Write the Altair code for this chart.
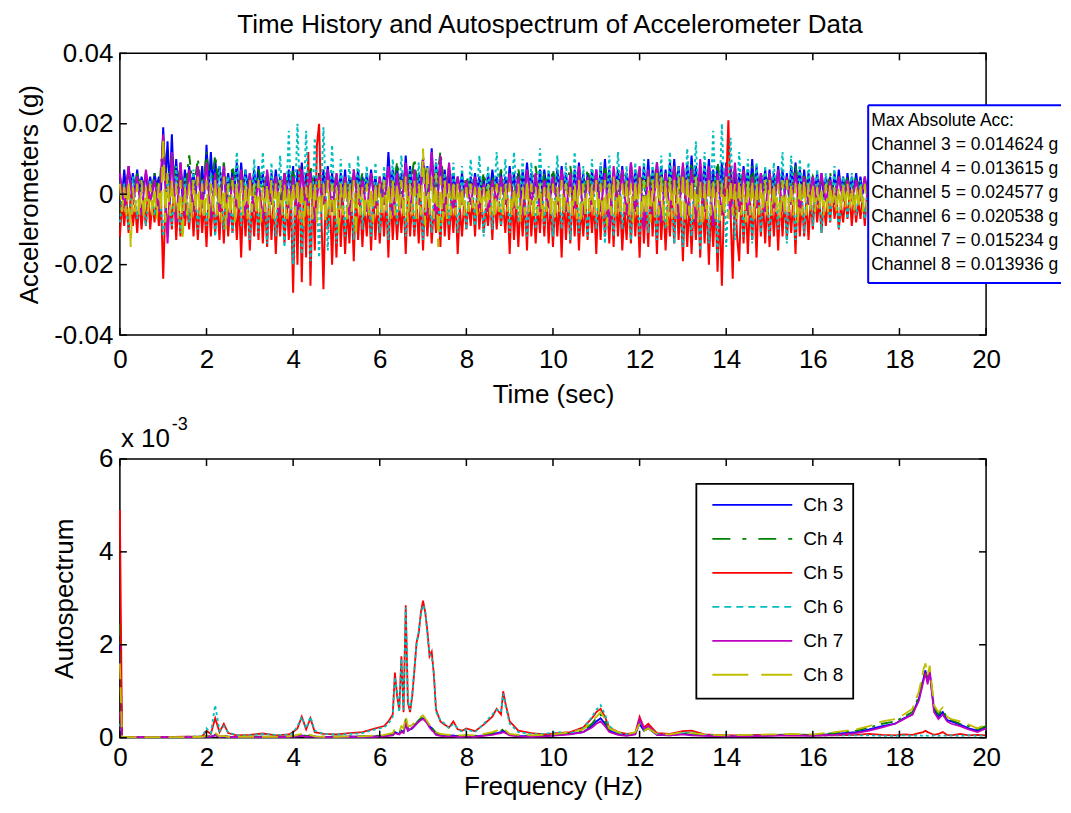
import altair as alt
import pandas as pd

FONT = "Liberation Sans"

# ---------------- Time history (milli-g) ----------------
# Ch 3, Ch 5, Ch 8 read every 0.05 s; Ch 4, Ch 6, Ch 7 every 0.1 s
ch3_mg = [5,-1,7,0,8,2,6,1,7,0,5,2,6,1,5,0,6,2,5,1,
          19,3,15,1,17,1,10,0,9,-2,7,1,8,2,6,0,7,1,8,0,
          14,1,12,2,10,3,8,1,8,-1,6,1,7,2,9,0,9,1,7,2,
          6,0,7,1,8,2,6,0,5,-2,6,1,7,1,5,0,6,0,7,1,
          8,-3,7,0,9,1,6,0,7,-2,5,1,6,0,7,1,8,1,6,0,
          5,1,6,0,7,-1,5,1,6,2,7,0,5,0,6,1,7,1,5,0,
          4,-1,6,1,12,2,7,0,8,0,6,1,11,1,8,0,7,-1,6,1,
          9,2,8,1,13,0,9,1,10,1,7,0,7,-2,6,1,5,1,6,0,
          4,0,5,1,6,1,5,0,5,-1,6,1,7,2,5,0,6,0,5,1,
          8,1,6,0,6,-2,7,1,9,2,6,0,5,0,7,1,7,1,6,0,
          6,0,7,1,8,2,6,0,5,-1,7,1,9,1,6,0,6,0,7,1,
          7,-2,8,1,10,1,7,0,6,2,7,1,8,0,6,1,9,1,7,0,
          6,1,8,0,10,-1,7,1,9,2,8,0,7,0,9,1,10,1,8,0,
          8,0,9,1,11,2,8,0,7,-1,9,1,10,1,7,0,8,0,9,1,
          9,1,8,0,7,-2,6,1,8,2,7,0,10,0,8,1,6,1,7,0,
          7,0,6,1,8,1,7,0,6,-1,8,1,9,2,7,0,7,0,6,1,
          5,1,6,0,6,-1,5,1,5,0,6,1,7,1,5,0,6,0,5,1,
          6,1,5,0,5,0,6,1,6,1,5]
ch4_mg = [4,0,7,-1,6,1,5,-2,6,0,
          16,-1,12,2,8,0,11,1,10,-1,
          12,1,11,0,9,-2,8,1,7,0,
          5,-1,7,1,6,0,5,-2,6,1,
          7,0,6,-2,8,1,5,0,7,-1,
          6,1,5,-1,7,0,6,2,5,0,
          5,-1,7,1,9,0,8,2,10,-1,
          11,0,9,2,12,1,8,-1,4,0,
          5,1,4,-1,6,0,5,1,7,0,
          6,-1,7,1,5,0,8,-2,6,1,
          7,0,5,1,8,-1,6,0,7,1,
          6,1,8,0,5,-1,7,2,6,0,
          8,-1,7,1,9,0,6,2,8,0,
          7,1,9,0,8,-1,6,1,9,0,
          8,0,6,1,7,-1,8,0,6,1,
          6,0,7,-1,5,1,8,0,6,0,
          5,1,4,0,6,-1,5,1,5,0,
          5,0,4,1,5,0]
ch5_mg = [-12,-2,-9,-1,-11,0,-9,-3,-11,-1,-10,-2,-9,1,-10,-2,-8,-1,-9,-2,
          -24,-3,-11,-1,-10,2,-13,-2,-12,-1,-9,-3,-10,0,-12,-2,-13,-1,-11,-2,
          -15,0,-12,-2,-11,-3,-13,-1,-14,1,-12,-2,-11,-2,-13,-1,-18,0,-12,-1,
          -16,-2,-12,-1,-13,0,-14,-2,-15,1,-13,-2,-17,-3,-12,-1,-14,-2,-13,-1,
          -28,2,-20,8,-25,4,-18,12,-26,2,-16,14,20,-5,-27,-1,-10,-2,-20,-1,
          -18,0,-15,-2,-17,-4,-14,-1,-19,1,-13,-2,-15,-3,-12,-1,-16,0,-13,-2,
          -14,-2,-12,-1,-18,1,-13,-2,-13,-3,-11,-1,-17,0,-12,-2,-12,-2,-14,-1,
          -16,0,-12,-2,-14,-3,-11,-1,-15,1,-12,-2,-13,-2,-11,-1,-17,-4,-12,-2,
          -10,-2,-9,-1,-12,1,-10,-2,-11,-4,-9,-1,-13,0,-10,-2,-9,-3,-11,-1,
          -17,0,-13,-2,-15,-2,-12,-1,-16,1,-12,-2,-14,-3,-11,-1,-12,0,-14,-2,
          -15,-2,-12,-1,-18,1,-13,-2,-14,0,-12,-1,-16,-3,-12,-2,-13,-1,-11,-2,
          -17,0,-13,-1,-12,-2,-14,-1,-15,1,-12,-2,-16,-4,-13,-1,-14,0,-12,-2,
          -18,-1,-14,-2,-15,2,-12,-1,-17,0,-13,-2,-16,-3,-12,-1,-14,1,-13,-2,
          -19,0,-15,-2,-17,-2,-13,-1,-18,1,-14,-2,-20,-3,-15,-1,-22,-4,-26,-2,
          2,21,-5,-24,3,-12,-19,0,-14,-2,-17,-2,-13,-1,-18,1,-12,-2,-14,-1,
          -15,-1,-12,-2,-16,0,-12,-1,-13,-3,-11,-1,-17,1,-12,-2,-12,-2,-13,-1,
          -10,0,-8,-1,-11,-2,-9,-1,-8,1,-7,-2,-10,-3,-8,-1,-7,0,-9,-1,
          -8,-2,-7,-1,-9,0,-6,-1,-7,-1,-8]
ch6_mg = [-8,3,-10,5,-7,2,-9,4,-6,3,
          -12,6,-9,8,-11,5,-8,7,-10,4,
          -9,6,-12,8,-10,5,-11,12,-9,7,
          -13,10,-11,12,-14,9,-12,11,-15,18,
          -20,20,-17,18,-19,16,-18,19,-16,14,
          -14,10,-12,9,-13,11,-10,8,-12,9,
          -11,8,-13,10,-9,11,-12,7,-10,9,
          -13,8,-11,10,-12,6,-9,9,-11,8,
          -10,10,-9,11,-12,8,-10,12,-9,10,
          -11,12,-8,10,-12,9,-10,13,-9,8,
          -12,11,-10,9,-13,12,-11,8,-12,10,
          -10,9,-14,11,-12,12,-10,8,-13,9,
          -12,10,-11,9,-13,11,-10,12,-14,8,
          -15,13,-12,15,-16,12,-14,18,-17,20,
          -15,16,-13,12,-12,10,-14,9,-11,8,
          -12,9,-10,12,-14,11,-13,10,-11,9,
          -9,7,-11,6,-8,8,-10,5,-7,6,
          -6,4,-7,5,-6,3]
ch7_mg = [6,-4,8,-3,5,-6,7,-2,4,-5,
          17,-14,12,-8,9,-6,7,-5,8,-4,
          9,-7,6,-5,8,-9,5,-4,7,-6,
          6,-5,4,-7,7,-3,5,-6,6,-4,
          5,-6,7,-4,6,-8,5,-3,7,-5,
          6,-4,5,-6,7,-3,4,-5,6,-4,
          5,-3,8,-6,6,-4,9,-5,7,-3,
          10,-6,12,-8,11,-5,9,-4,5,-3,
          4,-3,5,-4,3,-5,4,-2,5,-3,
          6,-4,5,-6,7,-3,6,-5,4,-4,
          5,-3,7,-5,6,-4,8,-6,5,-3,
          7,-5,6,-9,8,-4,7,-6,9,-5,
          8,-10,7,-6,9,-8,6,-5,8,-7,
          9,-6,7,-8,10,-5,8,-9,6,-6,
          8,-7,9,-5,7,-6,5,-4,6,-5,
          6,-4,7,-5,5,-3,6,-4,5,-3,
          5,-3,6,-2,4,-3,5,-2,4,-2,
          4,-2,5,-3,4,-2]
ch8_mg = [3,-5,2,-6,4,-15,2,-5,3,-6,4,-7,2,-5,3,-6,2,-7,3,-5,
          16,-8,6,-6,4,-5,3,-7,4,-13,2,-6,3,-7,4,-5,5,-6,3,-7,
          4,-7,3,-5,4,-6,3,-8,5,-10,3,-6,4,-8,3,-5,4,-6,3,-7,
          4,-5,3,-6,4,-8,2,-5,3,-6,4,-7,3,-5,4,-6,3,-7,2,-5,
          3,-6,4,-7,3,-9,2,-6,4,-7,3,-8,4,-6,3,-8,4,-6,3,-7,
          2,-11,3,-6,4,-7,3,-5,4,-12,3,-6,2,-7,3,-6,2,-8,3,-6,
          3,-6,4,-5,3,-7,4,-6,3,-5,4,-7,5,-8,3,-6,4,-7,3,-6,
          13,-9,8,-6,5,-7,6,-15,5,-8,4,-7,3,-6,4,-6,3,-5,2,-6,
          2,-5,3,-4,2,-6,3,-5,2,-4,3,-6,2,-7,3,-5,2,-6,3,-5,
          3,-6,2,-5,3,-8,2,-6,4,-5,3,-7,2,-6,3,-7,2,-5,3,-6,
          3,-7,2,-5,4,-6,3,-5,2,-6,3,-7,4,-8,3,-6,4,-5,3,-6,
          4,-6,3,-7,4,-9,3,-6,5,-7,4,-6,3,-5,4,-6,3,-8,4,-6,
          5,-7,4,-6,5,-8,4,-7,6,-6,5,-8,4,-9,5,-7,4,-6,5,-7,
          6,-8,5,-6,4,-7,5,-8,4,-9,3,-7,5,-6,4,-7,4,-8,3,-6,
          5,-7,4,-6,3,-7,4,-6,3,-8,4,-6,4,-7,3,-6,3,-5,4,-6,
          4,-6,3,-5,3,-7,4,-6,4,-5,3,-6,3,-8,4,-6,4,-6,3,-5,
          3,-5,2,-4,2,-6,3,-5,3,-4,2,-5,2,-5,3,-4,3,-4,2,-5,
          2,-4,3,-5,3,-5,2,-4,3,-4,2]
sample_step_s = [0.05, 0.1, 0.05, 0.1, 0.1, 0.05]

# ---------------- Autospectrum (units of 1e-3) ----------------
freq_hz = [0, 0.05, 0.2, 0.5, 1.0, 1.5, 1.9, 2.0, 2.1, 2.2,
           2.3, 2.4, 2.5, 2.7, 3.0, 3.3, 3.6, 3.9, 4.0, 4.1,
           4.2, 4.3, 4.4, 4.5, 4.7, 5.0, 5.3, 5.6, 5.9, 6.1,
           6.2, 6.3, 6.35, 6.4, 6.45, 6.5, 6.55, 6.6, 6.65, 6.7,
           6.75, 6.8, 6.85, 6.9, 6.95, 7.0, 7.05, 7.1, 7.15, 7.2,
           7.25, 7.3, 7.4, 7.5, 7.6, 7.7, 7.8, 7.9, 8.0, 8.2,
           8.4, 8.6, 8.7, 8.8, 8.85, 8.9, 9.0, 9.2, 9.5, 9.8,
           10.1, 10.4, 10.7, 10.9, 11.0, 11.1, 11.2, 11.3, 11.5, 11.7,
           11.9, 12.0, 12.1, 12.2, 12.4, 12.7, 13.0, 13.2, 13.5, 14.0,
           14.5, 15.0, 15.5, 16.0, 16.5, 17.0, 17.3, 17.6, 17.9, 18.1,
           18.3, 18.45, 18.55, 18.6, 18.65, 18.7, 18.75, 18.8, 18.9, 19.0,
           19.1, 19.2, 19.4, 19.6, 19.8, 20.0]
spec_ch3 = [2.0, 0.01, 0.01, 0.01, 0.01, 0.01, 0.01, 0.03, 0.02, 0.06,
            0.02, 0.03, 0.02, 0.01, 0.01, 0.02, 0.01, 0.02, 0.03, 0.03,
            0.05, 0.03, 0.04, 0.02, 0.01, 0.02, 0.02, 0.02, 0.03, 0.04,
            0.05, 0.06, 0.12, 0.1, 0.08, 0.15, 0.12, 0.3, 0.15, 0.18,
            0.2, 0.25, 0.3, 0.35, 0.4, 0.42, 0.38, 0.32, 0.25, 0.2,
            0.15, 0.1, 0.06, 0.05, 0.04, 0.05, 0.03, 0.03, 0.04, 0.03,
            0.05, 0.08, 0.1, 0.12, 0.15, 0.12, 0.06, 0.04, 0.03, 0.04,
            0.06, 0.08, 0.12, 0.25, 0.35, 0.42, 0.3, 0.15, 0.08, 0.05,
            0.08, 0.3, 0.15, 0.2, 0.06, 0.05, 0.08, 0.06, 0.05, 0.03,
            0.04, 0.05, 0.06, 0.05, 0.08, 0.12, 0.18, 0.25, 0.3, 0.42,
            0.5, 0.85, 1.25, 1.45, 1.2, 1.4, 1.0, 0.6, 0.45, 0.55,
            0.38, 0.35, 0.28, 0.2, 0.15, 0.22]
spec_ch4 = [2.45, 0.02, 0.01, 0.01, 0.01, 0.01, 0.02, 0.04, 0.02, 0.08,
            0.03, 0.04, 0.02, 0.01, 0.02, 0.02, 0.01, 0.02, 0.04, 0.05,
            0.06, 0.04, 0.05, 0.03, 0.02, 0.02, 0.03, 0.03, 0.04, 0.05,
            0.06, 0.08, 0.15, 0.12, 0.1, 0.2, 0.15, 0.4, 0.2, 0.2,
            0.22, 0.28, 0.32, 0.38, 0.42, 0.45, 0.4, 0.33, 0.26, 0.22,
            0.16, 0.11, 0.07, 0.06, 0.05, 0.06, 0.04, 0.04, 0.05, 0.04,
            0.06, 0.1, 0.12, 0.15, 0.18, 0.14, 0.07, 0.05, 0.04, 0.05,
            0.07, 0.1, 0.15, 0.3, 0.42, 0.5, 0.35, 0.18, 0.1, 0.06,
            0.1, 0.32, 0.18, 0.22, 0.07, 0.06, 0.1, 0.08, 0.06, 0.04,
            0.05, 0.06, 0.07, 0.06, 0.1, 0.15, 0.22, 0.3, 0.35, 0.45,
            0.55, 0.9, 1.3, 1.45, 1.25, 1.45, 1.05, 0.65, 0.5, 0.6,
            0.42, 0.38, 0.3, 0.25, 0.18, 0.25]
spec_ch5 = [4.9, 0.02, 0.01, 0.01, 0.01, 0.02, 0.03, 0.15, 0.08, 0.42,
            0.12, 0.3, 0.1, 0.05, 0.06, 0.09, 0.05, 0.07, 0.12, 0.2,
            0.45, 0.18, 0.42, 0.12, 0.08, 0.07, 0.1, 0.12, 0.2, 0.25,
            0.35, 0.5, 1.4, 0.9, 0.6, 1.75, 0.55, 2.85, 0.75, 0.55,
            0.9, 1.45, 2.05, 2.25, 2.7, 2.95, 2.7, 2.3, 1.75, 1.85,
            1.35, 0.6, 0.35, 0.28, 0.22, 0.35, 0.18, 0.15, 0.2, 0.14,
            0.28, 0.45, 0.62, 0.5, 1.0, 0.75, 0.35, 0.15, 0.1, 0.07,
            0.1, 0.12, 0.22, 0.42, 0.55, 0.62, 0.45, 0.22, 0.12, 0.08,
            0.1, 0.45, 0.22, 0.3, 0.1, 0.08, 0.14, 0.15, 0.07, 0.05,
            0.05, 0.06, 0.05, 0.05, 0.05, 0.06, 0.08, 0.06, 0.05, 0.07,
            0.06, 0.1, 0.12, 0.15, 0.12, 0.1, 0.08, 0.06, 0.08, 0.12,
            0.06, 0.05, 0.08, 0.05, 0.06, 0.05]
spec_ch6 = [0.3, 0.02, 0.01, 0.01, 0.01, 0.02, 0.03, 0.2, 0.1, 0.7,
            0.15, 0.25, 0.12, 0.05, 0.05, 0.08, 0.06, 0.06, 0.1, 0.25,
            0.45, 0.2, 0.45, 0.15, 0.08, 0.07, 0.08, 0.1, 0.18, 0.22,
            0.3, 0.45, 1.3, 1.0, 0.55, 1.7, 0.6, 2.8, 0.8, 0.6,
            0.95, 1.5, 2.0, 2.3, 2.65, 2.85, 2.75, 2.2, 1.8, 1.75,
            1.4, 0.55, 0.38, 0.3, 0.2, 0.3, 0.2, 0.12, 0.18, 0.12,
            0.3, 0.5, 0.6, 0.55, 0.95, 0.7, 0.3, 0.12, 0.08, 0.08,
            0.12, 0.1, 0.2, 0.45, 0.6, 0.7, 0.5, 0.25, 0.1, 0.07,
            0.08, 0.35, 0.2, 0.25, 0.08, 0.06, 0.1, 0.12, 0.06, 0.04,
            0.04, 0.05, 0.06, 0.04, 0.05, 0.05, 0.05, 0.04, 0.04, 0.05,
            0.04, 0.05, 0.04, 0.05, 0.04, 0.05, 0.04, 0.05, 0.04, 0.05,
            0.04, 0.05, 0.04, 0.05, 0.04, 0.05]
spec_ch7 = [0.55, 0.01, 0.01, 0.01, 0.01, 0.01, 0.01, 0.03, 0.02, 0.05,
            0.02, 0.03, 0.02, 0.01, 0.01, 0.01, 0.01, 0.02, 0.02, 0.03,
            0.04, 0.02, 0.03, 0.02, 0.01, 0.01, 0.02, 0.02, 0.02, 0.03,
            0.04, 0.05, 0.1, 0.08, 0.07, 0.12, 0.1, 0.35, 0.15, 0.18,
            0.22, 0.25, 0.3, 0.34, 0.38, 0.4, 0.36, 0.3, 0.22, 0.16,
            0.12, 0.06, 0.04, 0.03, 0.03, 0.03, 0.02, 0.02, 0.03, 0.02,
            0.04, 0.06, 0.08, 0.1, 0.12, 0.1, 0.05, 0.03, 0.02, 0.03,
            0.05, 0.07, 0.12, 0.22, 0.3, 0.35, 0.25, 0.12, 0.06, 0.04,
            0.07, 0.4, 0.2, 0.25, 0.06, 0.05, 0.07, 0.05, 0.04, 0.03,
            0.03, 0.04, 0.05, 0.04, 0.06, 0.1, 0.15, 0.22, 0.3, 0.4,
            0.5, 0.8, 1.2, 1.4, 1.15, 1.45, 0.95, 0.55, 0.4, 0.5,
            0.35, 0.3, 0.25, 0.18, 0.12, 0.2]
spec_ch8 = [1.6, 0.02, 0.01, 0.01, 0.01, 0.01, 0.02, 0.04, 0.03, 0.1,
            0.03, 0.04, 0.02, 0.02, 0.02, 0.02, 0.02, 0.03, 0.04, 0.06,
            0.08, 0.05, 0.06, 0.03, 0.02, 0.02, 0.03, 0.03, 0.05, 0.06,
            0.08, 0.1, 0.2, 0.15, 0.12, 0.25, 0.2, 0.48, 0.25, 0.25,
            0.28, 0.32, 0.35, 0.4, 0.45, 0.48, 0.42, 0.35, 0.28, 0.24,
            0.18, 0.12, 0.08, 0.07, 0.06, 0.07, 0.05, 0.05, 0.06, 0.05,
            0.08, 0.12, 0.15, 0.2, 0.2, 0.16, 0.08, 0.06, 0.05, 0.06,
            0.08, 0.12, 0.18, 0.35, 0.45, 0.55, 0.4, 0.2, 0.12, 0.07,
            0.12, 0.3, 0.15, 0.2, 0.08, 0.07, 0.12, 0.1, 0.07, 0.05,
            0.06, 0.07, 0.08, 0.07, 0.12, 0.18, 0.25, 0.35, 0.4, 0.5,
            0.62, 1.0, 1.45, 1.6, 1.35, 1.55, 1.1, 0.7, 0.55, 0.65,
            0.45, 0.4, 0.35, 0.28, 0.2, 0.28]

channel_names = ["Ch 3", "Ch 4", "Ch 5", "Ch 6", "Ch 7", "Ch 8"]
max_abs_lines = ["Max Absolute Acc:",
                 "Channel 3 = 0.014624 g",
                 "Channel 4 = 0.013615 g",
                 "Channel 5 = 0.024577 g",
                 "Channel 6 = 0.020538 g",
                 "Channel 7 = 0.015234 g",
                 "Channel 8 = 0.013936 g"]
time_ticks = [0, 2, 4, 6, 8, 10, 12, 14, 16, 18, 20]
acc_ticks = [-0.04, -0.02, 0, 0.02, 0.04]
spec_ticks = [0, 2, 4, 6]

# styles
channel_colors = ["#0000FF", "#008000", "#FF0000", "#00BFBF", "#BF00BF", "#BFBF00"]
channel_dashes = [None, [12, 6, 3, 6], None, [3, 3], None, [16, 8]]
legend_dashes = [None, [18, 12, 4, 12], None, [7, 5], None, [36, 13]]

W = 867
H1 = 282
H2 = 279
TICK = 7
FS = 26

# ---------------- tables ----------------
time_series = [ch3_mg, ch4_mg, ch5_mg, ch6_mg, ch7_mg, ch8_mg]
rows = []
for name, vals, step in zip(channel_names, time_series, sample_step_s):
    for i, v in enumerate(vals):
        rows.append({"t": round(i * step, 3), "acc": v / 1000.0, "ch": name})
df_time = pd.DataFrame(rows)

spectra = [spec_ch3, spec_ch4, spec_ch5, spec_ch6, spec_ch7, spec_ch8]
rows = []
for name, vals in zip(channel_names, spectra):
    for f, s in zip(freq_hz, vals):
        rows.append({"f": f, "s": s, "ch": name})
df_spec = pd.DataFrame(rows)

one = pd.DataFrame({"k": [0]})

# ---------------- encodings ----------------
x_top_axis = alt.Axis(values=time_ticks, title="Time (sec)", labelPadding=11,
                      titleY=59, titleBaseline="middle")
y_top_axis = alt.Axis(values=acc_ticks, title="Accelerometers (g)", labelPadding=7,
                      titleX=-90, titleY=H1 / 2, titleAngle=270, titleAlign="center",
                      titleBaseline="middle",
                      labelExpr="datum.value == 0 ? '0' : (datum.value < 0 ? '-' + format(-datum.value, '.2f') : format(datum.value, '.2f'))")
x_bot_axis = alt.Axis(values=time_ticks, title="Frequency (Hz)", labelPadding=7,
                      titleY=49, titleBaseline="middle")
y_bot_axis = alt.Axis(values=spec_ticks, title="Autospectrum", labelPadding=7,
                      titleX=-55, titleY=H2 / 2, titleAngle=270, titleAlign="center",
                      titleBaseline="middle")

t_scale = alt.Scale(domain=[0, 20], nice=False, zero=False)
a_scale = alt.Scale(domain=[-0.04, 0.04], nice=False, zero=False)
s_scale = alt.Scale(domain=[0, 6], nice=False, zero=False)


def xt(field):
    return alt.X(f"{field}:Q", scale=t_scale, axis=x_top_axis)


def yt(field):
    return alt.Y(f"{field}:Q", scale=a_scale, axis=y_top_axis)


def xb(field):
    return alt.X(f"{field}:Q", scale=t_scale, axis=x_bot_axis)


def yb(field):
    return alt.Y(f"{field}:Q", scale=s_scale, axis=y_bot_axis)


def line_kwargs(color, dash, width):
    kw = dict(color=color, strokeWidth=width)
    if dash:
        kw["strokeDash"] = dash
    return kw


# ---------------- top panel ----------------
top_layers = []
for name, color, dash in zip(channel_names, channel_colors, channel_dashes):
    top_layers.append(
        alt.Chart(df_time).transform_filter(alt.datum.ch == name)
        .mark_line(**line_kwargs(color, dash, 2.0))
        .encode(x=xt("t"), y=yt("acc"))
    )

tdf = pd.DataFrame({"v": time_ticks})
adf = pd.DataFrame({"v": acc_ticks})
sdf = pd.DataFrame({"v": spec_ticks})

top_layers += [
    alt.Chart(tdf).mark_rule(color="black", strokeWidth=1.5).encode(x=xt("v"), y=alt.value(H1), y2=alt.value(H1 - TICK)),
    alt.Chart(tdf).mark_rule(color="black", strokeWidth=1.5).encode(x=xt("v"), y=alt.value(0), y2=alt.value(TICK)),
    alt.Chart(adf).mark_rule(color="black", strokeWidth=1.5).encode(y=yt("v"), x=alt.value(0), x2=alt.value(TICK)),
    alt.Chart(adf).mark_rule(color="black", strokeWidth=1.5).encode(y=yt("v"), x=alt.value(W - TICK), x2=alt.value(W)),
]

# title
top_layers.append(
    alt.Chart(one).mark_text(font=FONT, fontSize=FS, align="center", baseline="middle", color="black")
    .encode(x=alt.value(W / 2 - 3), y=alt.value(-28), text=alt.value("Time History and Autospectrum of Accelerometer Data"))
)

# max-absolute text box (runs off the right edge of the window)
BX0, BX1, BY0, BY1 = 749, 942, 52, 230
top_layers += [
    alt.Chart(one).mark_rect(fill="white", strokeWidth=0).encode(
        x=alt.value(BX0), x2=alt.value(BX1), y=alt.value(BY0), y2=alt.value(BY1)),
    alt.Chart(one).mark_rule(color="#0000FF", strokeWidth=2).encode(
        x=alt.value(BX0), x2=alt.value(BX1), y=alt.value(BY0)),
    alt.Chart(one).mark_rule(color="#0000FF", strokeWidth=2).encode(
        x=alt.value(BX0), x2=alt.value(BX1), y=alt.value(BY1)),
    alt.Chart(one).mark_rule(color="#0000FF", strokeWidth=2).encode(
        x=alt.value(BX0), y=alt.value(BY0), y2=alt.value(BY1)),
]
for i, txt in enumerate(max_abs_lines):
    top_layers.append(
        alt.Chart(one).mark_text(font=FONT, fontSize=17.5, align="left", baseline="middle", color="black")
        .encode(x=alt.value(BX0 + 3), y=alt.value(68 + 24 * i), text=alt.value(txt))
    )

top = alt.layer(*top_layers).properties(width=W, height=H1)

# ---------------- bottom panel ----------------
bot_layers = []
for name, color, dash in zip(channel_names, channel_colors, channel_dashes):
    bot_layers.append(
        alt.Chart(df_spec).transform_filter(alt.datum.ch == name)
        .mark_line(**line_kwargs(color, dash, 1.8))
        .encode(x=xb("f"), y=yb("s"))
    )

bot_layers += [
    alt.Chart(tdf).mark_rule(color="black", strokeWidth=1.5).encode(x=xb("v"), y=alt.value(H2), y2=alt.value(H2 - TICK)),
    alt.Chart(tdf).mark_rule(color="black", strokeWidth=1.5).encode(x=xb("v"), y=alt.value(0), y2=alt.value(TICK)),
    alt.Chart(sdf).mark_rule(color="black", strokeWidth=1.5).encode(y=yb("v"), x=alt.value(0), x2=alt.value(TICK)),
    alt.Chart(sdf).mark_rule(color="black", strokeWidth=1.5).encode(y=yb("v"), x=alt.value(W - TICK), x2=alt.value(W)),
]

# exponent label
bot_layers += [
    alt.Chart(one).mark_text(font=FONT, fontSize=FS, align="left", baseline="middle", color="black")
    .encode(x=alt.value(1), y=alt.value(-20), text=alt.value("x 10")),
    alt.Chart(one).mark_text(font=FONT, fontSize=18, align="left", baseline="middle", color="black")
    .encode(x=alt.value(52), y=alt.value(-34), text=alt.value("-3")),
]

# legend box
LX0, LX1, LY0, LY1 = 577, 734, 25, 240
bot_layers.append(
    alt.Chart(one).mark_rect(fill="white", stroke="black", strokeWidth=1.8).encode(
        x=alt.value(LX0), x2=alt.value(LX1), y=alt.value(LY0), y2=alt.value(LY1))
)
for i, (name, color, dash) in enumerate(zip(channel_names, channel_colors, legend_dashes)):
    yy = 46 + 34 * i
    bot_layers.append(
        alt.Chart(one).mark_rule(**line_kwargs(color, dash, 1.8)).encode(
            x=alt.value(593), x2=alt.value(673), y=alt.value(yy))
    )
    bot_layers.append(
        alt.Chart(one).mark_text(font=FONT, fontSize=19, align="left", baseline="middle", color="black")
        .encode(x=alt.value(684), y=alt.value(yy), text=alt.value(name))
    )

bottom = alt.layer(*bot_layers).properties(width=W, height=H2)

chart = (
    alt.vconcat(top, bottom, spacing=124, bounds="flush")
    .properties(padding={"left": 8, "top": 3, "right": 0, "bottom": 0})
    .configure_view(stroke="black", strokeWidth=1.5)
    .configure_axis(labelFont=FONT, titleFont=FONT, labelFontSize=FS, titleFontSize=FS,
                    labelColor="black", titleColor="black", titleFontWeight="normal",
                    ticks=False, tickSize=0, domain=False, grid=False,
                    labelFlush=False, labelOverlap=False)
)

chart.save("out.html", embed_options={"renderer": "svg", "actions": False})
